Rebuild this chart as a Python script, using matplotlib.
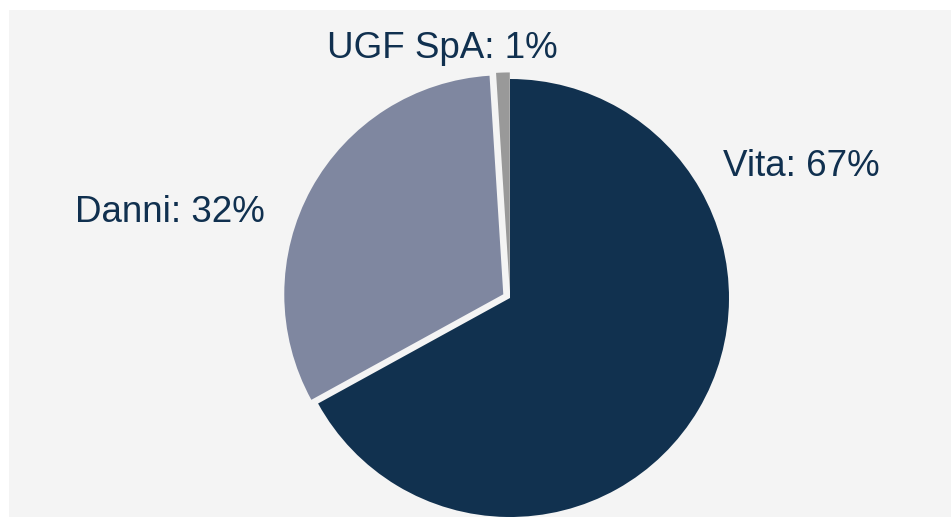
import matplotlib
matplotlib.use('Agg')
import matplotlib.pyplot as plt
import matplotlib.patches as patches

labels = ['Vita', 'Danni', 'UGF SpA']
shares = [67, 32, 1]
colors = ['#11314F', '#7F87A0', '#999999']
explode = [0, 0.035, 0.03]

# label anchors in pie-radius units (centre = 0,0)
label_pos = [(0.973, 0.60, 'left'), (-1.12, 0.39, 'right'), (-0.31, 1.14, 'center')]

W, H = 951, 517
cx, cy, r = 510, 298, 219  # pie centre / radius in pixels

fig = plt.figure(figsize=(W/100, H/100), dpi=100)
fig.patch.set_facecolor('white')
fig.patches.append(patches.Rectangle((9/W, 0), 1 - 9/W, 1 - 10/H, transform=fig.transFigure,
                                     facecolor='#F4F4F4', edgecolor='none', zorder=-1))

ax = fig.add_axes([0, 0, 1, 1])
ax.set_zorder(1)
ax.set_facecolor('none')
ax.pie(shares, colors=colors, explode=explode, startangle=90, counterclock=False,
       radius=1, wedgeprops=dict(edgecolor='none', linewidth=0))
ax.set_aspect('auto')
ax.set_xlim(-cx/r, (W - cx)/r)
ax.set_ylim((cy - H)/r, cy/r)
ax.axis('off')

for lab, val, (x, y, ha) in zip(labels, shares, label_pos):
    ax.text(x, y, f'{lab}: {val}%', ha=ha, va='center', fontsize=26.5,
            family='Liberation Sans', color='#10304F')

fig.savefig('out.png', dpi=100)
